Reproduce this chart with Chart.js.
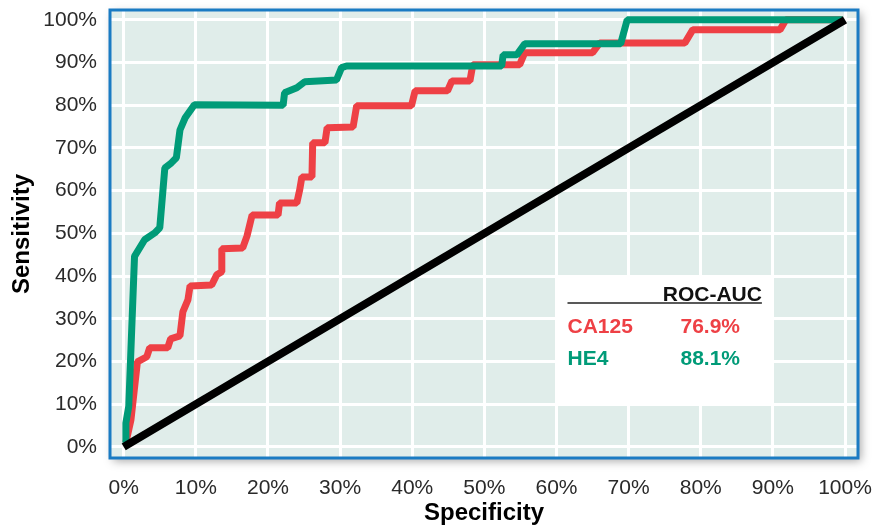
<!DOCTYPE html>
<html>
<head>
<meta charset="utf-8">
<script src="https://cdn.jsdelivr.net/npm/chart.js@4.4.1/dist/chart.umd.min.js"></script>
<style>
  html, body { margin: 0; padding: 0; background: #fff; }
  #wrap { width: 875px; height: 530px; }
</style>
</head>
<body>
<div id="wrap"><canvas id="rocChart" width="875" height="530"></canvas></div>
<script>
// tick labels (percent)
const tickValues = [0, 10, 20, 30, 40, 50, 60, 70, 80, 90, 100];

// HE4 ROC curve (specificity axis as drawn, sensitivity)
const he4Spec = [0.3, 0.3, 0.7, 1.5, 2.9, 4.3, 5.0, 5.7, 6.6, 7.3, 7.8, 8.5, 9.8, 22.1, 22.3, 24.0, 25.1, 29.5, 30.2, 30.9, 52.4, 52.6, 54.5, 55.6, 68.9, 69.8, 99.7];
const he4Sens = [1, 5.6, 9.5, 44.6, 48.5, 50.1, 51.3, 65.3, 66.5, 67.7, 74.2, 77, 80.1, 80, 82.9, 84.1, 85.5, 85.9, 88.8, 89.2, 89.2, 91.8, 91.8, 94.4, 94.4, 100, 100];

// CA125 ROC curve
const ca125Spec = [0.3, 1.0, 1.9, 3.2, 3.6, 6.1, 6.5, 7.8, 8.2, 8.9, 9.2, 12.2, 12.9, 13.6, 13.6, 16.5, 17.1, 17.8, 21.4, 21.6, 24.0, 24.4, 24.7, 26.1, 26.2, 27.9, 28.2, 31.8, 32.3, 39.9, 40.4, 44.9, 45.5, 48.0, 48.4, 54.9, 55.6, 65.0, 66.0, 77.8, 78.9, 91.0, 91.8, 99.7];
const ca125Sens = [1, 6.3, 19.9, 21.1, 23.2, 23.2, 25.3, 26.0, 31.6, 34.4, 37.7, 37.9, 40.3, 41.0, 46.4, 46.6, 49.4, 54.3, 54.3, 57.1, 57.1, 60.2, 63.2, 63.2, 71.2, 71.2, 74.7, 74.9, 79.9, 79.9, 83.4, 83.4, 85.7, 85.7, 89.5, 89.5, 92.3, 92.3, 94.6, 94.6, 97.7, 97.7, 100, 100];

// reference diagonal
const refSpec = [0, 100];
const refSens = [0, 100];

// ROC-AUC table
const aucNames = ['CA125', 'HE4'];
const aucValues = ['76.9%', '88.1%'];

const RED = '#ee4045';
const GREEN = '#009b78';
const aucColors = [RED, GREEN];

function toPoints(xs, ys) {
    return xs.map((x, i) => ({ x: x, y: ys[i] }));
}

const frame = {
    id: 'frame',
    beforeDraw(chart) {
        const { ctx, chartArea: a } = chart;
        ctx.save();
        ctx.shadowColor = 'rgba(0,0,0,0.35)';
        ctx.shadowBlur = 9;
        ctx.shadowOffsetX = 3;
        ctx.shadowOffsetY = 3;
        ctx.fillStyle = '#e0edea';
        ctx.fillRect(a.left, a.top, a.right - a.left, a.bottom - a.top);
        ctx.restore();
    },
    beforeDatasetsDraw(chart) {
        // white ROC-AUC box
        const { ctx, scales: { x, y } } = chart;
        const l = x.getPixelForValue(60), r = x.getPixelForValue(90);
        const t = y.getPixelForValue(40), b = y.getPixelForValue(10);
        ctx.save();
        ctx.fillStyle = '#ffffff';
        ctx.fillRect(l, t, r - l, b - t);
        const c1 = l + 11, c2 = l + 124;
        ctx.font = 'bold 21px "Liberation Sans", Arial, sans-serif';
        ctx.textBaseline = 'alphabetic';
        ctx.fillStyle = '#111';
        ctx.textAlign = 'right';
        ctx.fillText('ROC-AUC', r - 11, t + 25);
        ctx.strokeStyle = '#222';
        ctx.lineWidth = 1.5;
        ctx.beginPath();
        ctx.moveTo(c1, t + 27);
        ctx.lineTo(r - 11, t + 27);
        ctx.stroke();
        ctx.textAlign = 'left';
        aucNames.forEach((n, i) => {
            ctx.fillStyle = aucColors[i];
            ctx.fillText(n, c1, t + 57 + i * 32);
            ctx.fillText(aucValues[i], c2, t + 57 + i * 32);
        });
        ctx.restore();
    },
    afterDraw(chart) {
        const { ctx, chartArea: a } = chart;
        ctx.save();
        ctx.strokeStyle = '#1a7bc3';
        ctx.lineWidth = 3;
        ctx.strokeRect(a.left, a.top, a.right - a.left, a.bottom - a.top);
        ctx.restore();
    }
};

const ctx = document.getElementById('rocChart').getContext('2d');
const rocChart = new Chart(ctx, {
    type: 'line',
    data: {
        datasets: [
            {
                label: 'Reference',
                data: toPoints(refSpec, refSens),
                borderColor: '#000',
                borderWidth: 8,
                pointRadius: 0
            },
            {
                label: 'HE4',
                data: toPoints(he4Spec, he4Sens),
                borderColor: GREEN,
                borderWidth: 7,
                borderJoinStyle: 'bevel',
                pointRadius: 0
            },
            {
                label: 'CA125',
                data: toPoints(ca125Spec, ca125Sens),
                borderColor: RED,
                borderWidth: 7,
                borderJoinStyle: 'bevel',
                pointRadius: 0
            }
        ]
    },
    options: {
        responsive: false,
        animation: false,
        layout: {
            padding: { left: 0, right: 17, top: 10, bottom: 0 }
        },
        plugins: {
            legend: { display: false },
            tooltip: { enabled: false }
        },
        scales: {
            x: {
                type: 'linear',
                min: -1.9,
                max: 101.8,
                afterBuildTicks: s => { s.ticks = tickValues.map(v => ({ value: v })); },
                afterFit: s => {
                    s.height = 72;
                    s.paddingLeft = 0;
                    s.paddingRight = 0;
                },
                border: { display: false },
                grid: { color: '#ffffff', lineWidth: 3, drawTicks: false },
                ticks: {
                    padding: 18,
                    color: '#2a2a2a',
                    font: { family: '"Liberation Sans", Arial, sans-serif', size: 21 },
                    callback: v => v + '%'
                },
                title: {
                    display: true,
                    text: 'Specificity',
                    color: '#000',
                    font: { family: '"Liberation Sans", Arial, sans-serif', size: 24, weight: 'bold' },
                    padding: { top: 0, bottom: 2 }
                }
            },
            y: {
                type: 'linear',
                min: -2.6,
                max: 102.3,
                afterBuildTicks: s => { s.ticks = tickValues.map(v => ({ value: v })); },
                afterFit: s => {
                    s.width = 110;
                    s.paddingTop = 0;
                    s.paddingBottom = 0;
                },
                border: { display: false },
                grid: { color: '#ffffff', lineWidth: 3, drawTicks: false },
                ticks: {
                    padding: 13,
                    color: '#2a2a2a',
                    font: { family: '"Liberation Sans", Arial, sans-serif', size: 21 },
                    callback: v => v + '%'
                },
                title: {
                    display: true,
                    text: 'Sensitivity',
                    color: '#000',
                    font: { family: '"Liberation Sans", Arial, sans-serif', size: 24, weight: 'bold' },
                    padding: { top: 8, bottom: 0 }
                }
            }
        }
    },
    plugins: [frame]
});
</script>
</body>
</html>
